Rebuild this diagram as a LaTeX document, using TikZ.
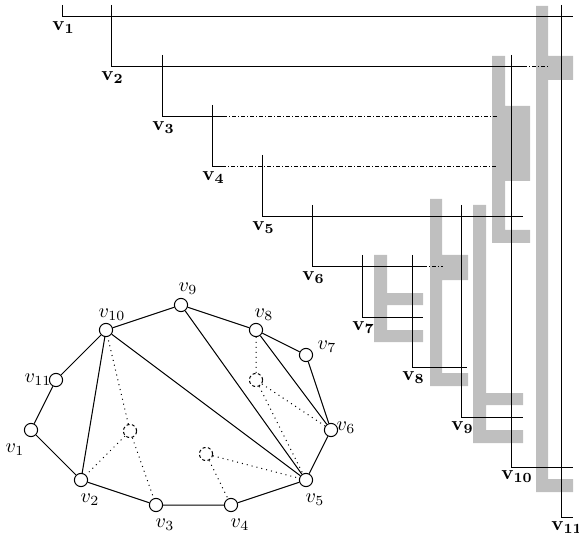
\documentclass[tikz,border=0pt]{standalone}
\begin{document}
\begin{tikzpicture}[x=0.5pt,y=-0.5pt,
  stair/.style={line width=0.5pt},
  dd/.style={line width=0.5pt, dash pattern=on 2pt off 1pt on 0.5pt off 1pt},
  blk/.style={fill=black!25, draw=none},
  vx/.style={circle, draw, fill=white, minimum size=6.6pt, inner sep=0pt, line width=0.5pt},
  dv/.style={circle, draw, dash pattern=on 1.5pt off 1.2pt, minimum size=6.6pt, inner sep=0pt, line width=0.5pt},
  ed/.style={line width=0.5pt},
  dt/.style={line width=0.5pt, dotted},
  lab/.style={inner sep=0pt},
  blab/.style={anchor=north west, inner sep=0pt}]
\useasboundingbox (0,0) rectangle (579,535);
% gray shapes
\fill[blk] (536,6) rectangle (548,492) (548,56) rectangle (573,80) (548,479) rectangle (573,492);
\fill[blk] (492,56) rectangle (505,243) (505,106) rectangle (530,181) (505,230) rectangle (530,243);
\fill[blk] (473,205) rectangle (486,443) (486,393) rectangle (523,405) (486,430) rectangle (523,443);
\fill[blk] (430,199) rectangle (442,386) (442,255) rectangle (468,280) (442,373) rectangle (468,386);
\fill[blk] (374,255) rectangle (387,342) (387,293) rectangle (423,305) (387,330) rectangle (423,342);
% staircase
\draw[stair] (62,5)--(62,17)--(573,17);
\draw[stair] (111,5)--(111,67)--(523,67);
\draw[dd] (523,67)--(548,67);
\draw[stair] (162,55)--(162,117)--(223,117);
\draw[dd] (223,117)--(497,117);
\draw[stair] (212,105)--(212,167)--(222,167);
\draw[dd] (222,167)--(497,167);
\draw[stair] (262,155)--(262,217)--(523,217);
\draw[stair] (312,205)--(312,267)--(423,267);
\draw[dd] (423,267)--(443,267);
\draw[stair] (362,255)--(362,317)--(423,317);
\draw[stair] (412,255)--(412,367)--(467,367);
\draw[stair] (461,205)--(461,417)--(523,417);
\draw[stair] (511,55)--(511,467)--(573,467);
\draw[stair] (561,5)--(561,517)--(573,517);
\node[blab] (L1) at (52,21) {$\mathbf{v_1}$};
\node[blab] (L2) at (101,71) {$\mathbf{v_2}$};
\node[blab] (L3) at (152,121) {$\mathbf{v_3}$};
\node[blab] (L4) at (202,171) {$\mathbf{v_4}$};
\node[blab] (L5) at (252,221) {$\mathbf{v_5}$};
\node[blab] (L6) at (302,271) {$\mathbf{v_6}$};
\node[blab] (L7) at (352,321) {$\mathbf{v_7}$};
\node[blab] (L8) at (402,371) {$\mathbf{v_8}$};
\node[blab] (L9) at (451,421) {$\mathbf{v_9}$};
\node[blab] (L10) at (501,470) {$\mathbf{v_{10}}$};
\node[blab] (L11) at (551,521) {$\mathbf{v_{11}}$};
% graph
\node[vx] (v1) at (31,430) {};
\node[vx] (v2) at (81,480) {};
\node[vx] (v3) at (156,505) {};
\node[vx] (v4) at (231,505) {};
\node[vx] (v5) at (306,480) {};
\node[vx] (v6) at (331,430) {};
\node[vx] (v7) at (306,355) {};
\node[vx] (v8) at (256,330) {};
\node[vx] (v9) at (181,305) {};
\node[vx] (v10) at (106,330) {};
\node[vx] (v11) at (56,380) {};
\node[dv] (d1) at (130,431) {};
\node[dv] (d2) at (256,380) {};
\node[dv] (d3) at (206,454) {};
\draw[ed] (v1)--(v2) (v2)--(v3) (v3)--(v4) (v4)--(v5) (v5)--(v6) (v6)--(v7) (v7)--(v8) (v8)--(v9) (v9)--(v10) (v10)--(v11) (v11)--(v1);
\draw[ed] (v10)--(v2) (v10)--(v5) (v9)--(v5) (v8)--(v6);
\draw[dt] (d1)--(v10) (d1)--(v2) (d1)--(v3);
\draw[dt] (d2)--(v8) (d2)--(v6) (d2)--(v5);
\draw[dt] (d3)--(v4) (d3)--(v5);
\node[lab] (t1) at (15,450) {$v_1$};
\node[lab] (t2) at (90,500) {$v_2$};
\node[lab] (t3) at (165,525) {$v_3$};
\node[lab] (t4) at (240,525) {$v_4$};
\node[lab] (t5) at (315,500) {$v_5$};
\node[lab] (t6) at (346,428) {$v_6$};
\node[lab] (t7) at (327,347) {$v_7$};
\node[lab] (t8) at (264,315) {$v_8$};
\node[lab] (t9) at (188,289) {$v_9$};
\node[lab] (t10) at (112,315) {$v_{10}$};
\node[lab] (t11) at (38,380) {$v_{11}$};
\end{tikzpicture}
\end{document}
